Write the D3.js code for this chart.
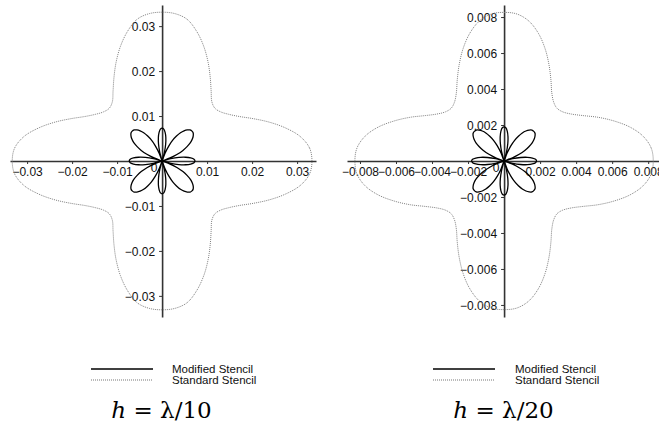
<!DOCTYPE html>
<html><head><meta charset="utf-8">
<script src="https://cdn.jsdelivr.net/npm/d3@7"></script>
<style>body{margin:0;background:#fff}svg{display:block}</style>
</head><body>
<svg id="c" width="659" height="428"></svg>
<script>
// ---- data (one quadrant, 0..90 deg; other quadrants mirrored) ----
const stdAngles = [0,5,10,15,20,25,30,35,40,45,50,55,60,65,70,75,80,85,90];
const stdLeft  = [0.0333,0.0329,0.0312,0.0284,0.0253,0.0223,0.0198,0.0181,0.0170,0.0166,0.0172,0.0190,0.0214,0.0242,0.0271,0.0298,0.0320,0.0329,0.0331];
const stdRight = [0.00828,0.00820,0.00785,0.00725,0.00650,0.00575,0.00505,0.00455,0.00425,0.00415,0.00428,0.00462,0.00520,0.00590,0.00665,0.00735,0.00790,0.00820,0.00826];

const modAngles = [0,3,6,9,12,15,18,21,24,27,30,33,36,39,42,45,48,51,54,57,60,63,66,69,72,75,78,81,84,87,90];
const modLeft  = [0.0073,0.0071,0.0064,0.0053,0.0038,0.0020,0,0.0019,0.0037,0.0052,0.0064,0.0075,0.0083,0.0089,0.0093,0.0094,0.0093,0.0089,0.0083,0.0075,0.0064,0.0052,0.0037,0.0019,0,0.0020,0.0038,0.0053,0.0064,0.0071,0.0073];
const modRight = [0.00180,0.00175,0.00158,0.00131,0.00094,0.00049,0,0.00047,0.00092,0.00129,0.00159,0.00186,0.00206,0.00221,0.00231,0.00233,0.00231,0.00221,0.00206,0.00186,0.00159,0.00129,0.00092,0.00047,0,0.00052,0.00099,0.00138,0.00167,0.00185,0.00190];

const ticksLeft = [-0.03,-0.02,-0.01,0.01,0.02,0.03];
const tickLabelsLeft = ["\u22120.03","\u22120.02","\u22120.01","0.01","0.02","0.03"];
const ticksRight = [-0.008,-0.006,-0.004,-0.002,0.002,0.004,0.006,0.008];
const tickLabelsRight = ["\u22120.008","\u22120.006","\u22120.004","\u22120.002","0.002","0.004","0.006","0.008"];
const legendLabels = ["Modified Stencil","Standard Stencil"];
const titleRatios = ["10","20"];

// ---- drawing ----
const svg = d3.select("#c");

function fullLoop(angles, vals){
  const n = angles.length, pts = [];
  for(let i=0;i<n-1;i++) pts.push([angles[i], vals[i]]);
  for(let i=n-1;i>=1;i--) pts.push([180-angles[i], vals[i]]);
  for(let i=0;i<n-1;i++) pts.push([180+angles[i], vals[i]]);
  for(let i=n-1;i>=1;i--) pts.push([360-angles[i], vals[i]]);
  return pts;
}

const panels = [
  {xd:[-0.0338,0.0342], xr:[10,316], yd:[-0.0347,0.0347], yr:[317,5],
   ticks:ticksLeft, labels:tickLabelsLeft, std:stdLeft, mod:modLeft,
   legX:91, legTextX:172, titleX:161.5, ratio:titleRatios[0]},
  {xd:[-0.00872,0.0086], xr:[347,659], yd:[-0.00867,0.00867], yr:[317,5],
   ticks:ticksRight, labels:tickLabelsRight, std:stdRight, mod:modRight,
   legX:433, legTextX:515, titleX:503.5, ratio:titleRatios[1]}
];

panels.forEach(p=>{
  const x = d3.scaleLinear().domain(p.xd).range(p.xr);
  const y = d3.scaleLinear().domain(p.yd).range(p.yr);
  const g = svg.append("g");
  const x0 = x(0), y0 = y(0);

  const fmt = d => p.labels[p.ticks.indexOf(d)];
  const ax = g.append("g").attr("transform",`translate(0,${y0})`)
    .call(d3.axisBottom(x).tickValues(p.ticks).tickFormat(fmt).tickSize(3).tickSizeOuter(0).tickPadding(3));
  const ay = g.append("g").attr("transform",`translate(${x0},0)`)
    .call(d3.axisLeft(y).tickValues(p.ticks).tickFormat(fmt).tickSize(3).tickSizeOuter(0).tickPadding(4));
  [ax,ay].forEach(a=>{
    a.select(".domain").attr("stroke","#333").attr("stroke-width",1.6);
    a.selectAll(".tick line").attr("stroke","#333").attr("stroke-width",1);
    a.selectAll("text").attr("font-family","'Liberation Sans', Arial, sans-serif").attr("font-size",12).attr("fill","#111");
  });
  ay.selectAll("text").attr("dy","0.4em");
  g.append("text").attr("x",x0-8).attr("y",y0+11).attr("text-anchor","middle")
    .attr("font-family","'Liberation Sans', Arial, sans-serif").attr("font-size",12).attr("fill","#111").text("0");

  const line = d3.line()
    .x(d=>x(d[1]*Math.cos(d[0]*Math.PI/180)))
    .y(d=>y(d[1]*Math.sin(d[0]*Math.PI/180)))
    .curve(d3.curveCatmullRomClosed);

  g.append("path").attr("d", line(fullLoop(stdAngles,p.std)))
    .attr("fill","none").attr("stroke","#808080").attr("stroke-width",1).attr("stroke-dasharray","1 1");
  g.append("path").attr("d", line(fullLoop(modAngles,p.mod)))
    .attr("fill","none").attr("stroke","#000").attr("stroke-width",1.3);

  // legend
  const lg = g.append("g");
  lg.append("line").attr("x1",p.legX).attr("x2",p.legX+62).attr("y1",369).attr("y2",369)
    .attr("stroke","#000").attr("stroke-width",1.5);
  lg.append("line").attr("x1",p.legX).attr("x2",p.legX+62).attr("y1",380).attr("y2",380)
    .attr("stroke","#777").attr("stroke-width",1).attr("stroke-dasharray","1 1");
  legendLabels.forEach((t,i)=>{
    lg.append("text").attr("x",p.legTextX).attr("y",373+i*11)
      .attr("font-family","'Liberation Sans', Arial, sans-serif").attr("font-size",11.5).attr("fill","#111").text(t);
  });

  // title
  const tt = g.append("text").attr("x",p.titleX).attr("y",418).attr("text-anchor","middle")
    .attr("font-family","'DejaVu Serif', serif").attr("font-size",23).attr("fill","#000");
  tt.append("tspan").attr("font-style","italic").text("h");
  tt.append("tspan").text(" = \u03BB/" + p.ratio);
});
</script>
</body></html>
